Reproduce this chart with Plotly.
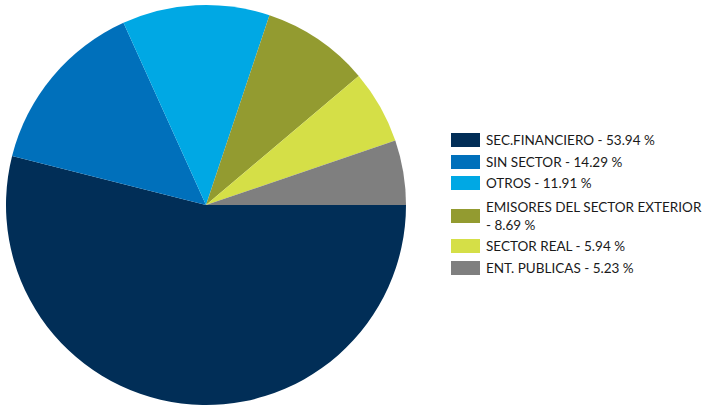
import plotly.graph_objects as go

labels = ["SEC.FINANCIERO", "SIN SECTOR", "OTROS", "EMISORES DEL SECTOR EXTERIOR",
          "SECTOR REAL", "ENT. PUBLICAS"]
values = [53.94, 14.29, 11.91, 8.69, 5.94, 5.23]
legend_text = ["SEC.FINANCIERO - 53.94 %", "SIN SECTOR - 14.29 %", "OTROS - 11.91 %",
               "EMISORES DEL SECTOR EXTERIOR<br>- 8.69 %", "SECTOR REAL - 5.94 %",
               "ENT. PUBLICAS - 5.23 %"]
colors = ["#012e57", "#0070bb", "#00a8e4", "#939b30", "#d5df47", "#7f7f7f"]

W, H = 707, 408
fig = go.Figure()
fig.add_trace(go.Pie(
    labels=labels, values=values, sort=False, direction="clockwise", rotation=90,
    marker=dict(colors=colors, line=dict(width=0)), textinfo="none", hoverinfo="label+percent",
    domain=dict(x=[6 / W, 406 / W], y=[1 - 405 / H, 1 - 5 / H]), showlegend=False,
))

# custom legend with wide swatches
row_y = [140, 162, 183, 216, 246, 268]
for i, (t, c) in enumerate(zip(legend_text, colors)):
    yc = row_y[i]
    fig.add_shape(type="rect", xref="paper", yref="paper",
                  x0=451 / W, x1=480 / W, y0=1 - (yc - 7) / H, y1=1 - (yc + 7) / H,
                  fillcolor=c, line=dict(width=0))
    fig.add_annotation(xref="paper", yref="paper", x=484 / W, y=1 - yc / H,
                       text=t, showarrow=False, xanchor="left", yanchor="middle", align="left",
                       font=dict(family="Lato", size=13.5, color="#1a1a1a"))

fig.update_layout(width=W, height=H, margin=dict(l=0, r=0, t=0, b=0),
                  paper_bgcolor="white", plot_bgcolor="white")
fig.write_html("out.html", config={"displayModeBar": False},
               post_script="document.body.style.margin='0';")
